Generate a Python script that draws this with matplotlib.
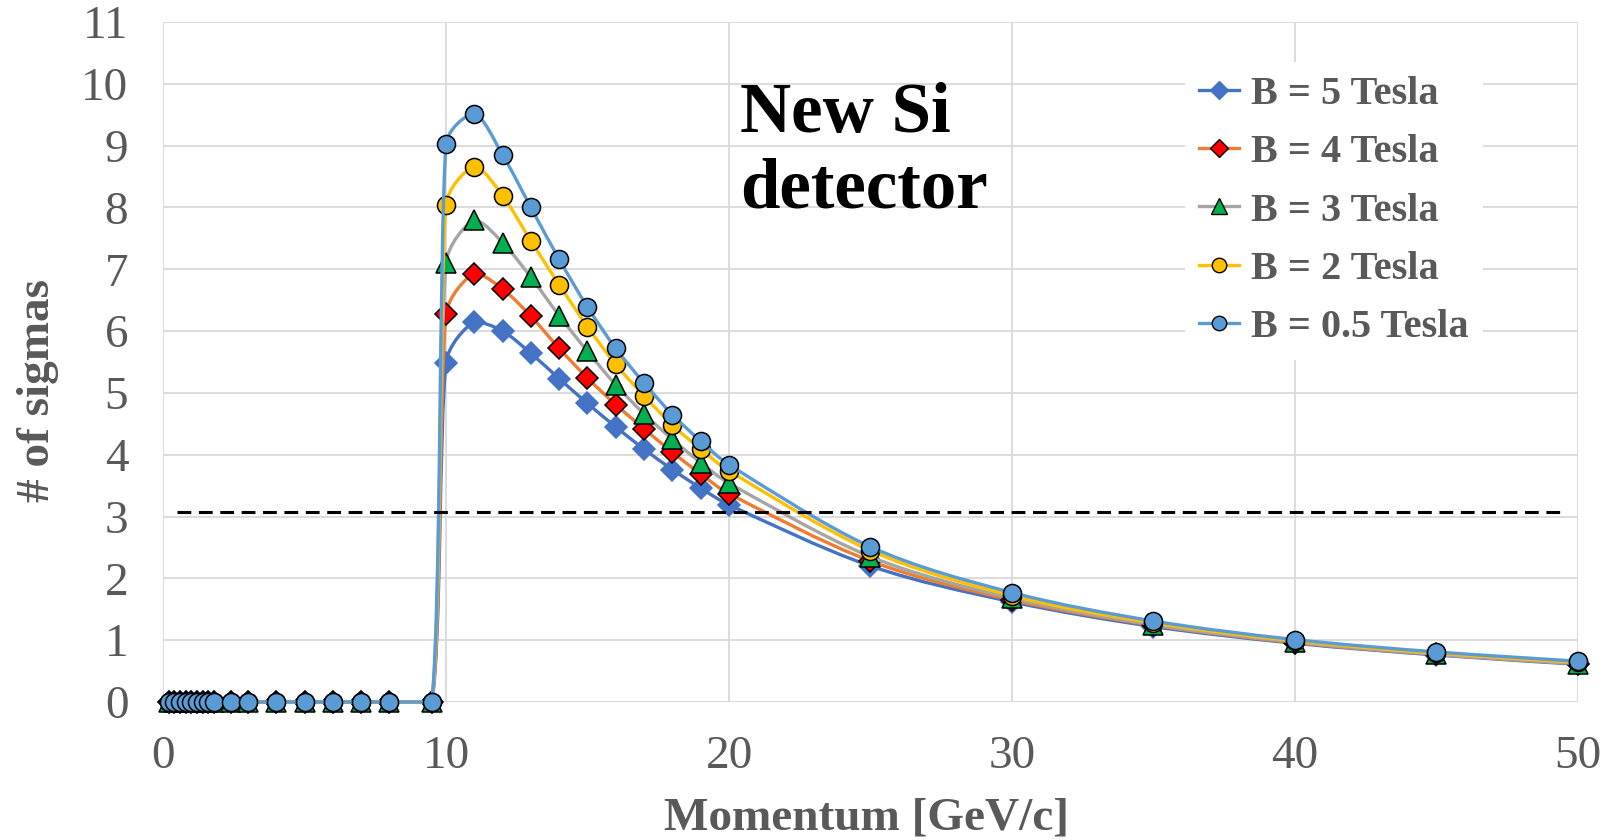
import numpy as np
import matplotlib
matplotlib.use("Agg")
import matplotlib.pyplot as plt
from matplotlib.path import Path
from matplotlib.patches import PathPatch
from matplotlib.lines import Line2D

# momentum values [GeV/c]
momentum = [0.2, 0.4, 0.6, 0.8, 1.0, 1.2, 1.4, 1.6, 1.8, 2.4, 3, 4, 5, 6, 7, 8, 9.5,
            10, 11, 12, 13, 14, 15, 16, 17, 18, 19, 20, 25, 30, 35, 40, 45, 50]
zeros = [0.0] * 17

# number of sigmas, per field
sig_b5 = zeros + [5.49, 6.15, 6.00, 5.64, 5.23, 4.83, 4.45, 4.09, 3.76, 3.46, 3.19,
                  2.20, 1.62, 1.22, 0.95, 0.76, 0.61]
sig_b4 = zeros + [6.27, 6.93, 6.68, 6.24, 5.72, 5.24, 4.81, 4.42, 4.04, 3.69, 3.37,
                  2.28, 1.65, 1.24, 0.96, 0.77, 0.62]
sig_b3 = zeros + [7.10, 7.79, 7.43, 6.87, 6.25, 5.67, 5.13, 4.66, 4.25, 3.87, 3.54,
                  2.35, 1.68, 1.25, 0.97, 0.77, 0.62]
sig_b2 = zeros + [8.04, 8.65, 8.19, 7.46, 6.75, 6.07, 5.46, 4.95, 4.48, 4.09, 3.74,
                  2.45, 1.72, 1.28, 0.99, 0.79, 0.64]
sig_b05 = zeros + [9.02, 9.51, 8.85, 8.00, 7.16, 6.39, 5.72, 5.16, 4.65, 4.22, 3.84,
                   2.51, 1.77, 1.31, 1.01, 0.81, 0.66]

labels = ["B = 5 Tesla", "B = 4 Tesla", "B = 3 Tesla", "B = 2 Tesla", "B = 0.5 Tesla"]
threshold = 3.07

SERIF = ["Liberation Serif", "DejaVu Serif"]
GREY = "#595959"

W, H = 1606, 840
fig = plt.figure(figsize=(W / 100, H / 100), dpi=100)
ax = fig.add_axes([163 / W, 1 - 702 / H, (1578 - 163) / W, (702 - 22) / H])

X_PX = (1578 - 163) / 50.0   # px per x unit
Y_PX = (702 - 22) / 11.0     # px per y unit


def smooth_path(xs, ys):
    # Excel-like smoothed line: cubic Bezier, handles capped and kept inside the segment box
    p = np.column_stack([xs, ys]).astype(float)
    s = np.array([X_PX, Y_PX])
    n = len(p)
    verts = [p[0]]
    codes = [Path.MOVETO]
    for i in range(n - 1):
        p0 = p[i - 1] if i > 0 else p[i]
        p1, p2 = p[i], p[i + 1]
        p3 = p[i + 2] if i + 2 < n else p2
        seg = np.linalg.norm((p2 - p1) * s)
        t1 = (p2 - p0) / 6.0
        t2 = (p3 - p1) / 6.0
        l1 = np.linalg.norm(t1 * s)
        l2 = np.linalg.norm(t2 * s)
        cap = seg / 3.0
        if l1 > cap:
            t1 = t1 * cap / l1
        if l2 > cap:
            t2 = t2 * cap / l2
        lo = np.minimum(p1, p2)
        hi = np.maximum(p1, p2)
        c1 = np.clip(p1 + t1, lo, hi)
        c2 = np.clip(p2 - t2, lo, hi)
        verts += [c1, c2, p2]
        codes += [Path.CURVE4] * 3
    return Path(verts, codes)


series = [
    (sig_b5, "#4472C4", "D", "#4472C4", "#4472C4", 11),
    (sig_b4, "#ED7D31", "D", "#FF0000", "black", 11),
    (sig_b3, "#A5A5A5", "^", "#00B050", "black", 15),
    (sig_b2, "#FFC000", "o", "#FFC000", "black", 13),
    (sig_b05, "#5B9BD5", "o", "#5B9BD5", "black", 13),
]

handles = []
for k, (vals, lc, mk, fc, ec, ms) in enumerate(series):
    patch = PathPatch(smooth_path(momentum, vals), facecolor="none", edgecolor=lc,
                      lw=2.4, zorder=3 + 2 * k, clip_on=False)
    ax.add_patch(patch)
    ax.plot(momentum, vals, ls="none", marker=mk, ms=ms, mfc=fc, mec=ec, mew=1.1,
            zorder=4 + 2 * k, clip_on=False)
    handles.append(Line2D([], [], color=lc, lw=2.4, marker=mk, ms=ms * 0.8,
                          mfc=fc, mec=ec, mew=1.0))

ax.plot([0.5, 49.55], [threshold, threshold], color="black", lw=2.2,
        dashes=(4.5, 2.5), zorder=15)

ax.set_xlim(0, 50)
ax.set_ylim(0, 11)
ax.set_xticks(np.arange(0, 51, 10))
ax.set_yticks(np.arange(0, 12, 1))
ax.grid(True, color="#D9D9D9", lw=1.3)
ax.set_axisbelow(True)
for sp in ax.spines.values():
    sp.set_visible(False)
ax.tick_params(length=0, labelsize=34, labelcolor=GREY)
ax.tick_params(axis="y", pad=25)
ax.tick_params(axis="x", pad=24)
for lab in ax.get_xticklabels() + ax.get_yticklabels():
    lab.set_family(SERIF)

fig.text(867 / W, 1 - 830 / H, "Momentum [GeV/c]", family=SERIF, fontsize=34,
         fontweight="bold", color=GREY, ha="center", va="baseline")
fig.text(38 / W, 1 - 391 / H, "# of sigmas", family=SERIF, fontsize=34,
         fontweight="bold", color=GREY, ha="center", va="center", rotation=90)

fig.text(740 / W, 1 - 132 / H, "New Si", family=SERIF, fontsize=51,
         fontweight="bold", color="black", ha="left", va="baseline")
fig.text(740 / W, 1 - 207 / H, "detector", family=SERIF, fontsize=51,
         fontweight="bold", color="black", ha="left", va="baseline")

leg = ax.legend(handles, labels, loc="upper left",
                bbox_to_anchor=(1185 / W, 1 - 62 / H), bbox_transform=fig.transFigure,
                prop={"family": SERIF, "size": 29, "weight": "bold"},
                frameon=True, facecolor="white", edgecolor="none", framealpha=1,
                fancybox=False, borderaxespad=0, borderpad=0.35,
                handlelength=1.0, handletextpad=0.3, labelspacing=0.52)
leg.set_zorder(20)
for t in leg.get_texts():
    t.set_color(GREY)

fig.savefig("out.png", dpi=100)
